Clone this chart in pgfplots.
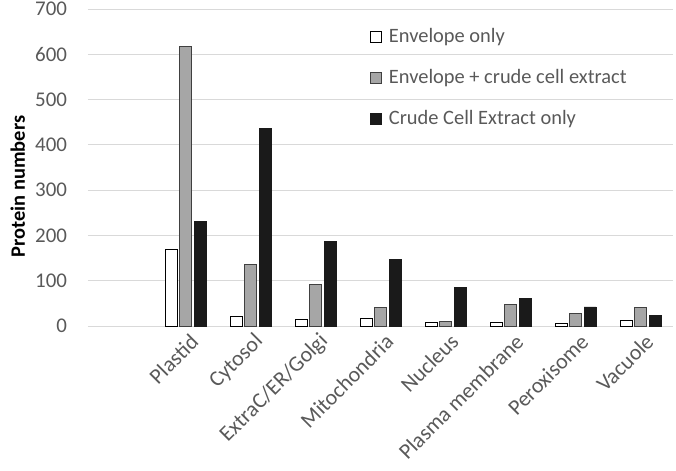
\documentclass[border=0pt]{standalone}
\usepackage{fontspec}
\setmainfont{Carlito}
\usepackage{pgfplots}
\pgfplotsset{compat=1.18}
\definecolor{txtgray}{HTML}{595959}
\definecolor{gridgray}{HTML}{D9D9D9}
\definecolor{barmid}{HTML}{A6A6A6}
\definecolor{barmidline}{HTML}{404040}
\definecolor{bardark}{HTML}{1A1A1A}
\begin{document}
\fontsize{20.5}{24}\selectfont
\begin{tikzpicture}
\path[use as bounding box] (-88bp,-145bp) rectangle (588bp,326bp);
\begin{axis}[
  at={(0,0)}, anchor=south west,
  scale only axis, width=585bp, height=317bp,
  ybar=2.5bp, bar width=12bp,
  xmin=-0.5, xmax=8.5, ymin=0, ymax=700,
  ytick={0,100,...,700},
  xtick={1,2,3,4,5,6,7,8},
  xticklabels={Plastid,Cytosol,ExtraC/ER/Golgi,Mitochondria,Nucleus,Plasma membrane,Peroxisome,Vacuole},
  xticklabel style={rotate=45, anchor=east, text=txtgray, font=\fontsize{22}{26}\selectfont, inner sep=1bp, yshift=-15bp, xshift=-1bp},
  yticklabel style={text=txtgray, font=\fontsize{21}{25}\selectfont, xshift=-14bp},
  /pgf/number format/assume math mode=true,
  major tick length=0pt,
  ymajorgrids, grid style={gridgray, line width=1bp},
  axis y line*=left,
  y axis line style={draw=none},
  axis x line*=bottom,
  x axis line style={gridgray, line width=1bp, -},
  clip=false,
  legend cell align=left,
  legend style={at={(0.482,0.945)}, anchor=north west, draw=none, fill=none,
     font=\fontsize{20.5}{24}\selectfont, text=txtgray, row sep=19.5bp, inner sep=0pt,
     /tikz/every odd column/.append style={column sep=5bp}},
  legend image code/.code={\draw[#1, line width=0.8bp] (0bp,-5.5bp) rectangle (11bp,5.5bp);},
]
\addplot[fill=white, draw=black, line width=0.8bp] coordinates {(1,170) (2,22) (3,15) (4,17) (5,7) (6,8) (7,6) (8,13)};
\addplot[fill=barmid, draw=barmidline, line width=0.8bp] coordinates {(1,617) (2,136) (3,92) (4,40) (5,10) (6,47) (7,27) (8,40)};
\addplot[fill=bardark, draw=bardark, line width=0.8bp] coordinates {(1,231) (2,436) (3,187) (4,146) (5,85) (6,61) (7,42) (8,24)};
\legend{Envelope only, Envelope + crude cell extract, Crude Cell Extract only}
\node[rotate=90, font=\bfseries\fontsize{20.5}{24}\selectfont, text=black] at (axis description cs:-0.12,0.44) {Protein numbers};
\end{axis}
\end{tikzpicture}
\end{document}
